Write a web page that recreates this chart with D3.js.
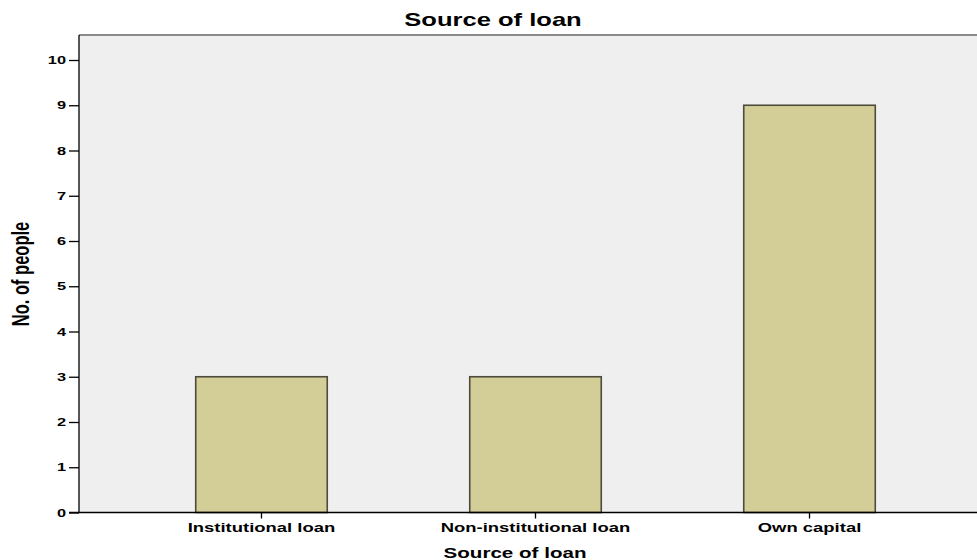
<!DOCTYPE html>
<html>
<head>
<meta charset="utf-8">
<script src="https://cdn.jsdelivr.net/npm/d3@7"></script>
<style>
  body { margin: 0; background: #fff; }
  text { font-family: "Liberation Sans", Arial, sans-serif; fill: #000; }
</style>
</head>
<body>
<svg id="chart"></svg>
<script>
const categories = ['Institutional loan', 'Non-institutional loan', 'Own capital'];
const counts = [3, 3, 9];
const yTicks = [0, 1, 2, 3, 4, 5, 6, 7, 8, 9, 10];
const chartTitle = 'Source of loan';
const xTitle = 'Source of loan';
const yTitle = 'No. of people';

const width = 977;
const height = 560;
const stretch = 1.42; // the source picture is widened horizontally

const svg = d3.select('#chart')
  .attr('width', width)
  .attr('height', height);

const plotLeft = 79, plotRight = 992, plotBottom = 512.5;

const x = d3.scaleBand()
  .domain(categories)
  .range([plotLeft, plotRight])
  .paddingInner(0.52)
  .paddingOuter(0.426);

const y = d3.scaleLinear()
  .domain([0, 10])
  .range([plotBottom, 60]);

const plotTop = y(10.55);

// plot background
svg.append('rect')
  .attr('x', plotLeft)
  .attr('y', plotTop)
  .attr('width', plotRight - plotLeft)
  .attr('height', plotBottom - plotTop)
  .attr('fill', '#efefef');

// top frame line
svg.append('line')
  .attr('x1', plotLeft).attr('x2', plotRight)
  .attr('y1', plotTop).attr('y2', plotTop)
  .attr('stroke', '#8a8a8a')
  .attr('stroke-width', 2);

// bars
svg.selectAll('rect.bar')
  .data(counts)
  .enter()
  .append('rect')
  .attr('class', 'bar')
  .attr('x', (d, i) => x(categories[i]))
  .attr('y', d => y(d))
  .attr('width', x.bandwidth())
  .attr('height', d => y(0) - y(d))
  .attr('fill', '#d3ce97')
  .attr('stroke', '#4d4c3c')
  .attr('stroke-width', 1.6);

// axes
const yAxis = d3.axisLeft(y).tickValues(yTicks).tickSize(10).tickFormat('');
const gy = svg.append('g').attr('transform', `translate(${plotLeft},0)`).call(yAxis);
gy.select('.domain').remove();
gy.selectAll('line').attr('stroke', '#000').attr('stroke-width', 1.3);
svg.append('line')
  .attr('x1', plotLeft).attr('x2', plotLeft)
  .attr('y1', plotTop).attr('y2', plotBottom)
  .attr('stroke', '#000').attr('stroke-width', 1.3);

const xAxis = d3.axisBottom(x).tickSize(6).tickFormat('');
const gx = svg.append('g').attr('transform', `translate(0,${plotBottom})`).call(xAxis);
gx.select('.domain').remove();
gx.selectAll('line').attr('stroke', '#000').attr('stroke-width', 1.3);
svg.append('line')
  .attr('x1', plotLeft - 10).attr('x2', plotRight)
  .attr('y1', plotBottom).attr('y2', plotBottom)
  .attr('stroke', '#000').attr('stroke-width', 1.3);

function stretchedText(tx, ty, str, size, weight, anchor, rotate) {
  return svg.append('text')
    .attr('transform', `translate(${tx},${ty}) scale(${stretch},1)` + (rotate ? ` rotate(${rotate})` : ''))
    .attr('text-anchor', anchor)
    .attr('font-size', size)
    .attr('font-weight', weight)
    .text(str);
}

// y tick labels
yTicks.forEach(t => {
  stretchedText(66, y(t) + 4, t, 11.5, 'bold', 'end');
});

// x tick labels
categories.forEach(c => {
  stretchedText(x(c) + x.bandwidth() / 2, 532, c, 13, 'bold', 'middle');
});

// titles
stretchedText(493, 26, chartTitle, 18, 'bold', 'middle');
stretchedText(515, 558, xTitle, 14.5, 'bold', 'middle');
stretchedText(29, 274, yTitle, 16.5, 'bold', 'middle', -90);
</script>
</body>
</html>
